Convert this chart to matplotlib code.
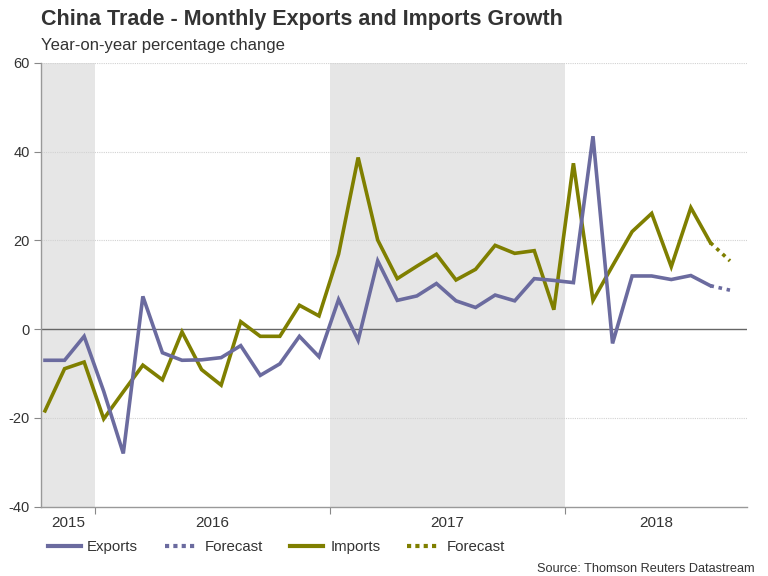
import matplotlib
matplotlib.use("Agg")
import matplotlib.pyplot as plt
from matplotlib.lines import Line2D
import numpy as np

plt.rcParams['font.family'] = ['Liberation Sans', 'DejaVu Sans']
plt.rcParams['axes.unicode_minus'] = False

# Monthly data, Oct 2015 .. Aug 2018 (actual), Sep 2018 (forecast)
years = ["2015", "2016", "2017", "2018"]
first_month = 10  # October 2015
exports = [-7.0, -7.0, -1.6, -14.0, -28.0, 7.4, -5.3, -7.0, -6.9, -6.4, -3.7,
           -10.4, -7.8, -1.6, -6.2, 6.7, -2.5, 15.4, 6.5, 7.5, 10.3, 6.4, 4.9,
           7.7, 6.4, 11.4, 11.0, 10.5, 43.5, -3.2, 12.0, 12.0, 11.2, 12.1, 9.8]
imports = [-18.4, -8.9, -7.4, -20.2, -14.1, -8.1, -11.4, -0.6, -9.1, -12.6, 1.7,
           -1.6, -1.6, 5.4, 3.0, 16.9, 38.7, 20.1, 11.4, 14.2, 16.9, 11.1, 13.5,
           18.9, 17.1, 17.7, 4.4, 37.4, 6.5, 14.3, 22.0, 26.1, 14.1, 27.4, 19.5]
exports_forecast = 8.8
imports_forecast = 15.4
yticks = [-40, -20, 0, 20, 40, 60]

exp_col = "#6B6B9F"
imp_col = "#7F7F00"
shade = "#E6E6E6"
txt = "#333333"

fig = plt.figure(figsize=(7.68, 5.76), dpi=100)
ax = fig.add_axes([40.7 / 768, 1 - 506.7 / 576, (747 - 40.7) / 768, (506.7 - 63) / 576])

n = len(exports)
x = np.arange(n)
xf = np.array([n - 1, n])

# year boundaries (January 1st relative to mid-month points)
jan_idx = [12 - first_month + 1 + 12 * k for k in range(3)]  # index of Jan 2016, 2017, 2018
bounds = [j - 0.45 for j in jan_idx]
xmin, xmax = -0.22, 35.87
edges = [xmin] + bounds + [xmax]

# shaded years: 2015 and 2017
for k in (0, 2):
    ax.axvspan(edges[k], edges[k + 1], color=shade, lw=0, zorder=0)

for yv in yticks:
    if yv in (-40, 0):
        continue
    ax.axhline(yv, color="#D2D2D2", lw=0.8, ls=(0, (1, 1)), zorder=1)
ax.axhline(0, color="#666666", lw=1.0, zorder=2)

ax.plot(x, exports, color=exp_col, lw=2.6, solid_joinstyle="miter", zorder=4)
ax.plot(x, imports, color=imp_col, lw=2.6, solid_joinstyle="miter", zorder=3)
ax.plot(xf, [exports[-1], exports_forecast], color=exp_col, lw=2.6,
        ls=(0, (1, 1.3)), dash_capstyle="butt", zorder=4)
ax.plot(xf, [imports[-1], imports_forecast], color=imp_col, lw=2.6,
        ls=(0, (1, 1.3)), dash_capstyle="butt", zorder=3)

ax.set_xlim(xmin, xmax)
ax.set_ylim(-40, 60)
ax.set_yticks(yticks)
ax.tick_params(axis="y", length=5, width=0.8, color="#888888", labelsize=10.5,
               labelcolor=txt, pad=3)
ax.set_xticks(bounds)
ax.set_xticklabels([])
ax.tick_params(axis="x", length=5, width=0.8, color="#888888", direction="out")

for s in ("top", "right"):
    ax.spines[s].set_visible(False)
for s in ("left", "bottom"):
    ax.spines[s].set_color("#999999")
    ax.spines[s].set_linewidth(1.0)

# year labels centred in each year's visible span
for k, yr in enumerate(years):
    cx = (edges[k] + edges[k + 1]) / 2
    ax.text(cx, -0.022, yr, transform=ax.get_xaxis_transform(), ha="center",
            va="top", fontsize=11, color=txt)

fig.text(41 / 768, 1 - 25 / 576, "China Trade - Monthly Exports and Imports Growth",
         fontsize=15.5, fontweight="bold", color=txt, ha="left", va="baseline")
fig.text(41 / 768, 1 - 50 / 576, "Year-on-year percentage change",
         fontsize=12, color=txt, ha="left", va="baseline")

handles = [
    Line2D([], [], color=exp_col, lw=3),
    Line2D([], [], color=exp_col, lw=3, ls=(0, (1, 1)), dash_capstyle="butt"),
    Line2D([], [], color=imp_col, lw=3),
    Line2D([], [], color=imp_col, lw=3, ls=(0, (1, 1)), dash_capstyle="butt"),
]
labels = ["Exports", "Forecast", "Imports", "Forecast"]
leg = fig.legend(handles, labels, loc="center left", ncol=4,
                 bbox_to_anchor=(43 / 768, 1 - 547 / 576), frameon=False,
                 fontsize=10.8, handlelength=2.2, handletextpad=0.45,
                 columnspacing=1.8, borderaxespad=0, borderpad=0.3)
for t in leg.get_texts():
    t.set_color(txt)

fig.text(755 / 768, 1 - 572 / 576, "Source: Thomson Reuters Datastream",
         fontsize=9.2, color=txt, ha="right", va="baseline")

fig.savefig("out.png", dpi=100)
